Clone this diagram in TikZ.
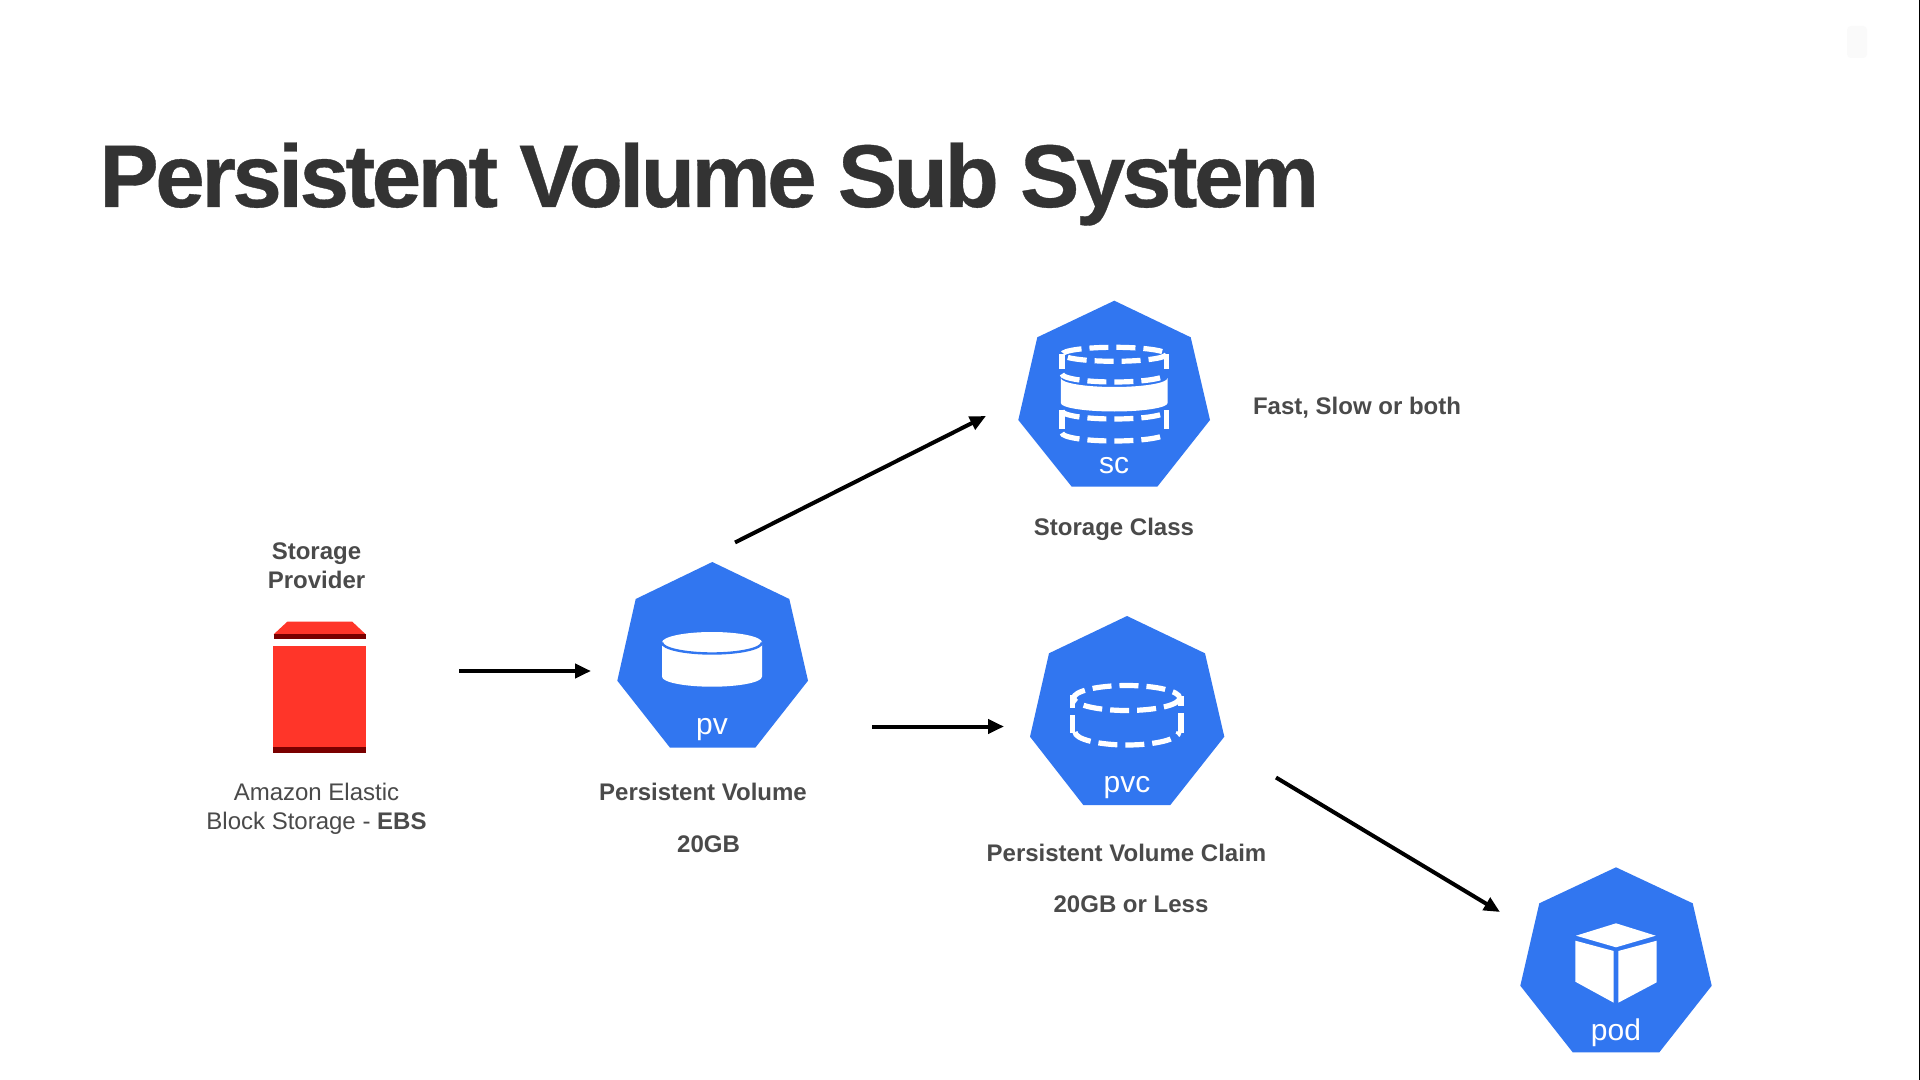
\documentclass[tikz,border=0pt]{standalone}
\usepackage{fontspec}
\usetikzlibrary{arrows.meta}
\setmainfont{Liberation Sans}
\newfontfamily\titlefont[LetterSpace=-3.95,FakeBold=0.4]{Liberation Sans Bold}
\definecolor{kblue}{HTML}{3176F0}
\definecolor{kred}{HTML}{FF3529}
\definecolor{kdark}{HTML}{7A0000}
\definecolor{ttl}{HTML}{333333}
\definecolor{lbl}{HTML}{4A4A4A}
\tikzset{
  x=0.5pt,y=-0.5pt,
  hept/.style={fill=kblue},
  flow/.style={draw=black,line width=2pt,-{Triangle[length=8pt,width=7pt]},shorten >=0pt},
  lab/.style={text=lbl,font=\fontsize{12pt}{14pt}\selectfont\bfseries,inner sep=0pt,anchor=center},
  labr/.style={text=lbl,font=\fontsize{12pt}{14pt}\selectfont,inner sep=0pt,anchor=center},
  ico/.style={text=white,font=\fontsize{15pt}{16pt}\selectfont,inner sep=0pt,anchor=base},
  dsh/.style={draw=white,line width=2.6pt,dash pattern=on 9.5pt off 4pt,fill=none},
  sol/.style={draw=white,line width=2.6pt,fill=none},
}
\begin{document}
\begin{tikzpicture}
\useasboundingbox (0,0) rectangle (1920,1080);
\fill[white] (0,0) rectangle (1920,1080);
\fill[black] (1919,0) rectangle (1920,1080);
\fill[black!2,rounded corners=2pt] (1847,26) rectangle (1867,58);

\node[text=ttl,font=\fontsize{44.5pt}{50pt}\selectfont\titlefont,inner sep=0pt,anchor=base west] (title) at (99,207) {Persistent Volume Sub System};

% storage provider
\fill[kred] (287.3,621.7) -- (352.3,621.7) -- (365.7,634.3) -- (273.7,634.3) -- cycle;
\fill[kdark] (273.7,634.3) rectangle (365.7,639.3);
\fill[kred] (272.7,646) rectangle (366.3,747);
\fill[kdark] (272.7,746.7) rectangle (366.3,752.7);
\node[lab,align=center] (sp) at (316.5,566) {Storage\\[0.5pt]Provider};
\node[labr,align=center] (ebs) at (316.5,809) {Amazon Elastic\\[0.5pt]Block Storage - {\bfseries EBS}};

% pv
\fill[hept] (712.3,562) -- (789.3,599) -- (808,680.7) -- (755.3,747.7) -- (670,747.7) -- (617.3,680.7) -- (635.7,599) -- cycle;
\fill[white] (662,642.5) -- (762,642.5) -- (762,676.7) arc[start angle=0,end angle=180,x radius=50,y radius=10] -- cycle;
\fill[white] (712,642.5) ellipse[x radius=50,y radius=10.5];
\draw[kblue,line width=1.2pt] (662,642.5) arc[start angle=180,end angle=0,x radius=50,y radius=11];
\node[ico] (pvt) at (712,734) {pv};
\node[lab] (pvl) at (703,791.5) {Persistent Volume};
\node[lab] (pvs) at (708.5,844) {20GB};

% sc
\fill[hept] (1114.3,300.7) -- (1190.7,337.3) -- (1210,420) -- (1157.3,486.7) -- (1071.7,486.7) -- (1018.3,420) -- (1037.3,337.3) -- cycle;
\draw[dsh] (1114.3,354.3) ellipse[x radius=52,y radius=7];
\draw[sol] (1062,354.5) -- (1062,369);
\draw[sol] (1166.5,354.5) -- (1166.5,369);
\draw[dsh] (1062,374) arc[start angle=180,end angle=0,x radius=52.2,y radius=8];
\fill[white] (1060.8,378) arc[start angle=180,end angle=0,x radius=53.4,y radius=9] -- (1167.6,403) arc[start angle=0,end angle=180,x radius=53.4,y radius=8.5] -- cycle;
\draw[dsh] (1062,411) arc[start angle=180,end angle=0,x radius=52.2,y radius=8];
\draw[sol] (1062,410) -- (1062,429);
\draw[sol] (1166.5,410) -- (1166.5,429);
\draw[dsh] (1062,433) arc[start angle=180,end angle=0,x radius=52.2,y radius=8];
\node[ico] (sct) at (1114,473) {sc};
\node[lab] (scl) at (1114,529) {Storage Class};
\node[lab,anchor=west] (fast) at (1252.6,408) {Fast, Slow or both};

% pvc
\fill[hept] (1127,616) -- (1205,653.3) -- (1224.3,736.7) -- (1170.3,805) -- (1083.3,805) -- (1030,736.7) -- (1049,653.3) -- cycle;
\draw[dsh] (1126.7,698) ellipse[x radius=53,y radius=12.5];
\draw[sol] (1072.5,695) -- (1072.5,708);
\draw[sol] (1181,696) -- (1181,706);
\draw[sol] (1072.5,715) -- (1072.5,733);
\draw[sol] (1181,713) -- (1181,733);
\draw[dsh] (1075,732) arc[start angle=180,end angle=0,x radius=52,y radius=13];
\node[ico] (pvct) at (1127,792) {pvc};
\node[lab] (pvcl) at (1126.5,852.5) {Persistent Volume Claim};
\node[lab] (pvcs) at (1131,904) {20GB or Less};

% pod
\fill[hept] (1616,867.3) -- (1692.7,903.3) -- (1711.7,985.7) -- (1659.3,1052.3) -- (1572.7,1052.3) -- (1520.3,985.7) -- (1539.3,903.3) -- cycle;
\fill[white] (1616,923.3) -- (1655.7,935.7) -- (1616,947.3) -- (1576,935.7) -- cycle;
\fill[white] (1575.3,940.7) -- (1613.7,951) -- (1613.7,1002.7) -- (1575.3,981.7) -- cycle;
\fill[white] (1618.3,951) -- (1656.7,940.7) -- (1656.7,982.3) -- (1618.3,1002.7) -- cycle;
\node[ico] (podt) at (1616,1040) {pod};

% connectors
\coordinate (a1s) at (459,671); \coordinate (a1e) at (591,671);
\coordinate (a2s) at (735,542.5); \coordinate (a2e) at (986,416);
\coordinate (a3s) at (872,726.5); \coordinate (a3e) at (1004,726.5);
\coordinate (a4s) at (1276,777.5); \coordinate (a4e) at (1500,912);
\draw[flow] (a1s) -- (a1e);
\draw[flow] (a2s) -- (a2e);
\draw[flow] (a3s) -- (a3e);
\draw[flow] (a4s) -- (a4e);
\end{tikzpicture}
\end{document}
